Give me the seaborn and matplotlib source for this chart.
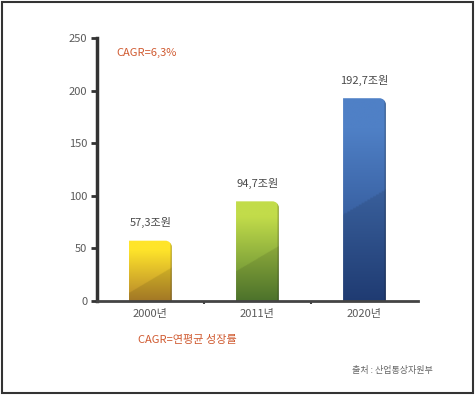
import numpy as np
import pandas as pd
import seaborn as sns
import matplotlib.pyplot as plt
from matplotlib.colors import to_rgb
from matplotlib.patches import Rectangle, PathPatch
from matplotlib.path import Path

# --- data ---
years = ['2000년', '2011년', '2020년']
values = [57.3, 94.7, 192.7]
labels = ['57,3조원', '94,7조원', '192,7조원']
yticks = [0, 50, 100, 150, 200, 250]

# top / bottom colours of each bar gradient
top_colors = ['#ffe52a', '#c2dc4a', '#4f80c6']
bottom_colors = ['#b5852a', '#557f30', '#23427f']

sns.set_theme(style='white')
plt.rcParams['font.family'] = ['Noto Sans CJK KR', 'DejaVu Sans']

fig = plt.figure(figsize=(4.75, 3.95), dpi=100)
ax = fig.add_axes([0.204, 0.238, 0.676, 0.666])

df = pd.DataFrame({'year': years, 'value': values})
sns.barplot(data=df, x='year', y='value', ax=ax, width=0.4, color='white',
            edgecolor='none')

ax.set_xlim(-0.5, 2.5)
ax.set_ylim(0, 250)


def rounded_bar(x0, w, h, rx, ry):
    # rectangle with rounded top-right corner
    k = 0.55
    verts = [(x0, 0), (x0 + w, 0), (x0 + w, h - ry),
             (x0 + w, h - ry * (1 - k)), (x0 + w - rx * (1 - k), h), (x0 + w - rx, h),
             (x0, h), (x0, 0)]
    codes = [Path.MOVETO, Path.LINETO, Path.LINETO,
             Path.CURVE4, Path.CURVE4, Path.CURVE4,
             Path.LINETO, Path.CLOSEPOLY]
    return Path(verts, codes)


# gradient fill clipped to each bar
for i, p in enumerate(list(ax.patches)):
    x0, w = p.get_x(), p.get_width()
    h = p.get_height()
    p.set_visible(False)
    n = 120
    yy, xx = np.mgrid[0:1:n * 1j, 0:1:n * 1j]  # yy: 0 top -> 1 bottom
    t = np.clip((yy - 0.15) / 0.85, 0, 1)
    c1 = np.array(to_rgb(top_colors[i]))
    c2 = np.array(to_rgb(bottom_colors[i]))
    img = c1[None, None, :] * (1 - t[..., None]) + c2[None, None, :] * t[..., None]
    # diagonal darker area at lower part
    diag = (yy * h) > (0.45 * h + (1 - xx) * w * 60)
    img[diag] = img[diag] * 0.9
    # dark right edge
    img[:, -4:] = img[:, -4:] * 0.75
    im = ax.imshow(img, extent=[x0, x0 + w, 0, h], aspect='auto', zorder=2,
                   interpolation='bilinear')
    clip = PathPatch(rounded_bar(x0, w, h, 0.06, 6), transform=ax.transData,
                     facecolor='none', edgecolor='none')
    ax.add_patch(clip)
    im.set_clip_path(clip)
    ax.text(x0 + w / 2, h + 17, labels[i], ha='center', va='center',
            fontsize=8, color='#4a4a4a', zorder=3)

ax.set_xlim(-0.5, 2.5)
ax.set_ylim(0, 250)
ax.set_yticks(yticks)
ax.set_xlabel('')
ax.set_ylabel('')

for s in ['top', 'right']:
    ax.spines[s].set_visible(False)
ax.spines['left'].set_color('#333333')
ax.spines['left'].set_linewidth(2.5)
ax.spines['bottom'].set_color('#444444')
ax.spines['bottom'].set_linewidth(2)

ax.tick_params(axis='y', direction='out', length=4, width=2, color='#333333',
               labelsize=8, labelcolor='#5a5a5a', left=True, pad=3)
ax.tick_params(axis='x', length=0, labelsize=8, labelcolor='#5a5a5a', pad=6)
ax.set_xticks([0.5, 1.5], minor=True)
ax.tick_params(axis='x', which='minor', direction='out', length=2, width=1.5,
               color='#444444', bottom=True)

fig.text(116 / 475, 1 - 53 / 395, 'CAGR=6,3%', color='#d05a30', fontsize=8,
         va='center', ha='left')
fig.text(138 / 475, 1 - 340 / 395, 'CAGR=연평균 성장률', color='#d05a30',
         fontsize=8, va='center', ha='left')
fig.text(352 / 475, 1 - 371 / 395, '출처 : 산업통상자원부', color='#666666',
         fontsize=6.5, va='center', ha='left')

fig.patches.append(Rectangle((0.004, 0.004), 0.992, 0.992, transform=fig.transFigure,
                             fill=False, edgecolor='#333333', linewidth=1.5))

plt.savefig('out.png', dpi=100)
